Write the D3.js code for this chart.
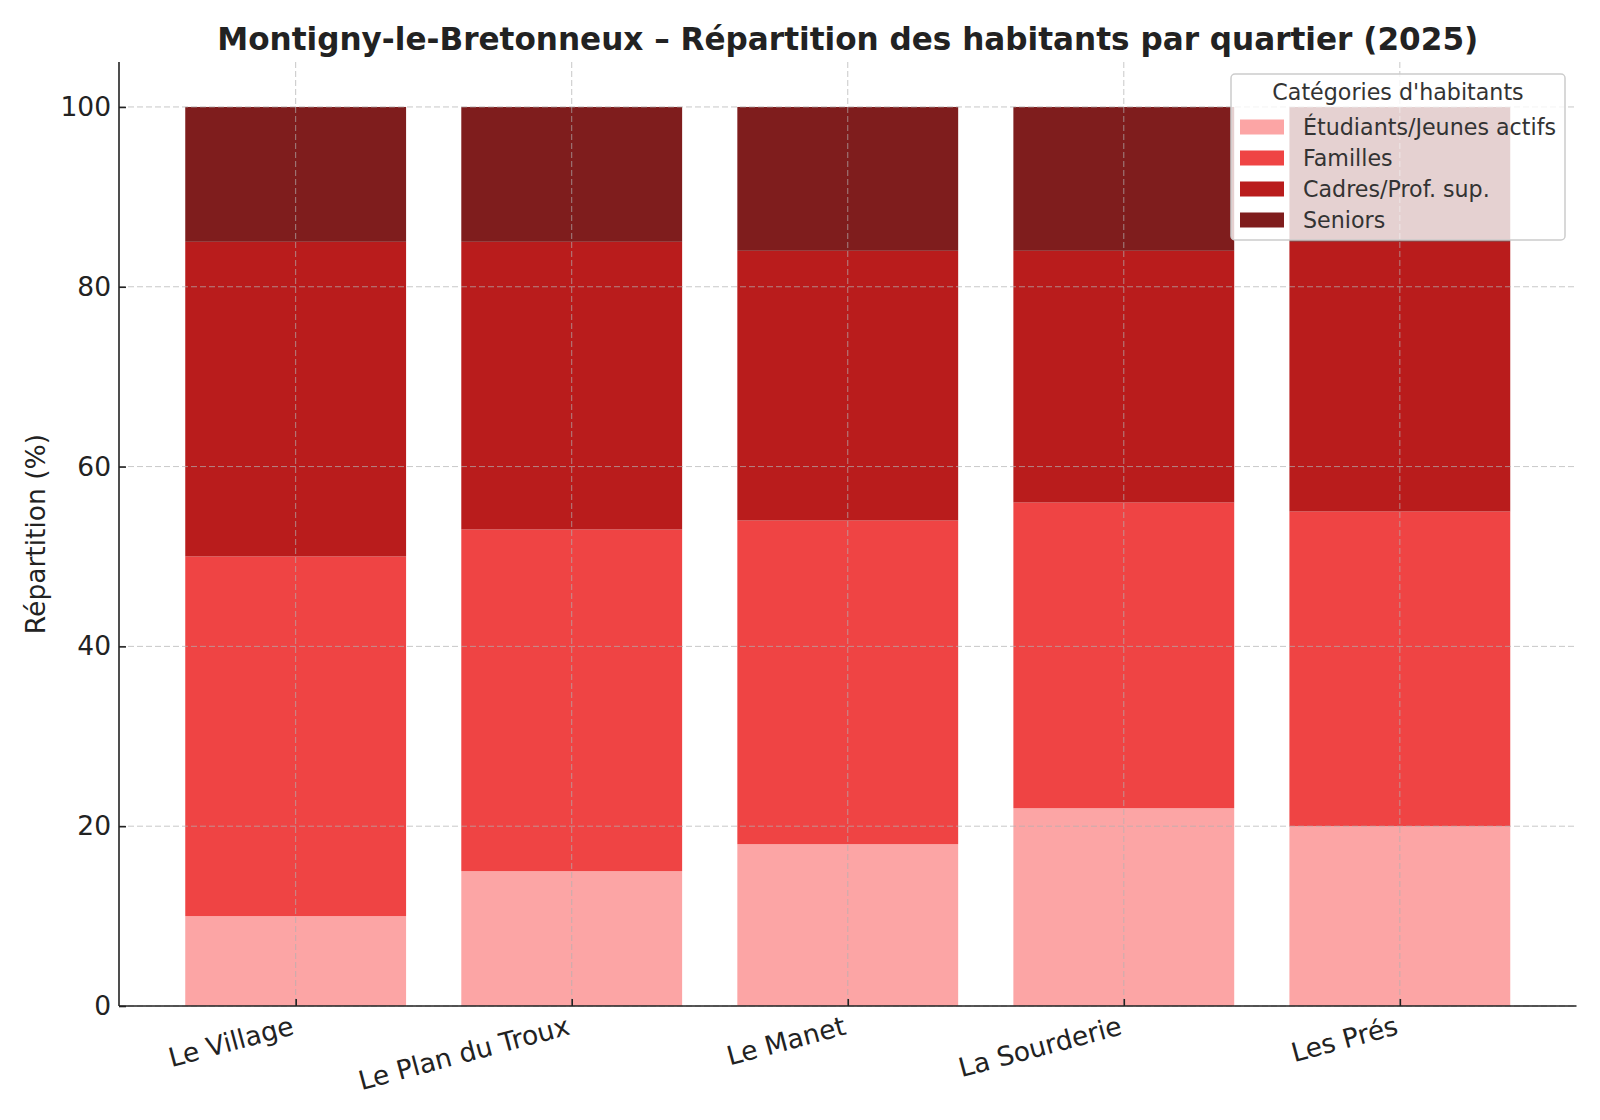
<!DOCTYPE html>
<meta charset="utf-8">
<style>
  html, body { margin:0; background:#fff; }
  svg { display:block; font-family:"DejaVu Sans", sans-serif; }
</style>
<svg width="1600" height="1120"></svg>
<script src="https://d3js.org/d3.v7.min.js"></script>
<script>

var quartiers = ["Le Village", "Le Plan du Troux", "Le Manet", "La Sourderie", "Les Prés"];
var categories = ["Étudiants/Jeunes actifs", "Familles", "Cadres/Prof. sup.", "Seniors"];
var etudiants = [10, 15, 18, 22, 20];
var familles  = [40, 38, 36, 34, 35];
var cadres    = [35, 32, 30, 28, 30];
var seniors   = [15, 15, 16, 16, 15];
var couleurs  = ["#fca5a5", "#ef4444", "#b91c1c", "#7f1d1d"];
var yTicks    = [0, 20, 40, 60, 80, 100];

var svg = d3.select("svg"),
    plotLeft = 119, plotRight = 1576.5, plotTop = 62, plotBottom = 1006;

var rows = quartiers.map(function(q, i) {
  return { quartier: q, "Étudiants/Jeunes actifs": etudiants[i], "Familles": familles[i],
           "Cadres/Prof. sup.": cadres[i], "Seniors": seniors[i] };
});
var series = d3.stack().keys(categories)(rows);

// matplotlib-like categorical axis: centres at 0..4, xlim -0.64..4.64
var x = d3.scaleLinear().domain([-0.64, quartiers.length - 1 + 0.64]).range([plotLeft, plotRight]);
var y = d3.scaleLinear().domain([0, 105]).range([plotBottom, plotTop]);
var barW = (x(1) - x(0)) * 0.8;
var color = d3.scaleOrdinal().domain(categories).range(couleurs);

// bars
svg.append("g").selectAll("g")
  .data(series)
  .enter().append("g")
    .attr("fill", function(d) { return color(d.key); })
  .selectAll("rect")
  .data(function(d) { return d; })
  .enter().append("rect")
    .attr("x", function(d, i) { return x(i) - barW / 2; })
    .attr("width", barW)
    .attr("y", function(d) { return y(d[1]); })
    .attr("height", function(d) { return y(d[0]) - y(d[1]); });

// grid (drawn over the bars)
var grid = svg.append("g")
    .attr("stroke", "#b0b0b0")
    .attr("stroke-opacity", 0.7)
    .attr("stroke-width", 1)
    .attr("stroke-dasharray", "6,3");
grid.selectAll("line.h").data(yTicks).enter().append("line")
    .attr("x1", plotLeft).attr("x2", plotRight)
    .attr("y1", function(d) { return y(d); }).attr("y2", function(d) { return y(d); });
grid.selectAll("line.v").data(quartiers).enter().append("line")
    .attr("y1", plotTop).attr("y2", plotBottom)
    .attr("x1", function(d, i) { return x(i); }).attr("x2", function(d, i) { return x(i); });

// y axis
var yAxis = svg.append("g")
    .attr("transform", "translate(" + plotLeft + ",0)")
    .call(d3.axisLeft(y).tickValues(yTicks).tickSizeInner(-7).tickSizeOuter(0).tickPadding(8));
yAxis.select(".domain").attr("stroke", "#222").attr("stroke-width", 1.6)
    .attr("d", "M0," + plotTop + "V" + plotBottom);
yAxis.selectAll(".tick line").attr("stroke", "#222").attr("stroke-width", 1.6);
yAxis.selectAll(".tick text")
    .attr("font-family", "DejaVu Sans").attr("font-size", 26.5).attr("fill", "#222");

// x axis
var xAxis = svg.append("g")
    .attr("transform", "translate(0," + plotBottom + ")")
    .call(d3.axisBottom(x).tickValues(d3.range(quartiers.length))
      .tickFormat(function(i) { return quartiers[i]; })
      .tickSizeInner(-7).tickSizeOuter(0));
xAxis.select(".domain").attr("stroke", "#222").attr("stroke-width", 1.6)
    .attr("d", "M" + plotLeft + ",0H" + plotRight);
xAxis.selectAll(".tick line").attr("stroke", "#222").attr("stroke-width", 1.6);
xAxis.selectAll(".tick text")
    .attr("font-family", "DejaVu Sans").attr("font-size", 26.5).attr("fill", "#222")
    .attr("text-anchor", "end")
    .attr("dy", null)
    .attr("y", 0)
    .attr("transform", "translate(-1,28) rotate(-15)");

// y label
svg.append("text")
    .attr("transform", "translate(45," + ((plotTop + plotBottom) / 2) + ") rotate(-90)")
    .attr("text-anchor", "middle")
    .attr("font-size", 26.5)
    .attr("fill", "#222")
    .text("Répartition (%)");

// title
svg.append("text")
    .attr("x", (plotLeft + plotRight) / 2)
    .attr("y", 50)
    .attr("text-anchor", "middle")
    .attr("font-size", 31.1)
    .attr("font-weight", "bold")
    .attr("fill", "#222")
    .text("Montigny-le-Bretonneux – Répartition des habitants par quartier (2025)");

// legend
var lg = svg.append("g").attr("transform", "translate(1231,74)");
lg.append("rect")
    .attr("width", 334).attr("height", 166)
    .attr("rx", 4)
    .attr("fill", "#fff").attr("fill-opacity", 0.8)
    .attr("stroke", "#cccccc").attr("stroke-width", 1.5);
lg.append("text")
    .attr("x", 167).attr("y", 26)
    .attr("text-anchor", "middle")
    .attr("font-size", 22.2)
    .attr("fill", "#333")
    .text("Catégories d'habitants");
var item = lg.selectAll("g.item").data(categories).enter().append("g")
    .attr("transform", function(d, i) { return "translate(9," + (53 + i * 31) + ")"; });
item.append("rect")
    .attr("width", 44).attr("height", 15).attr("y", -7.5)
    .attr("fill", function(d) { return color(d); });
item.append("text")
    .attr("x", 63).attr("y", 8)
    .attr("font-size", 22.2)
    .attr("fill", "#333")
    .text(function(d) { return d; });

</script>
